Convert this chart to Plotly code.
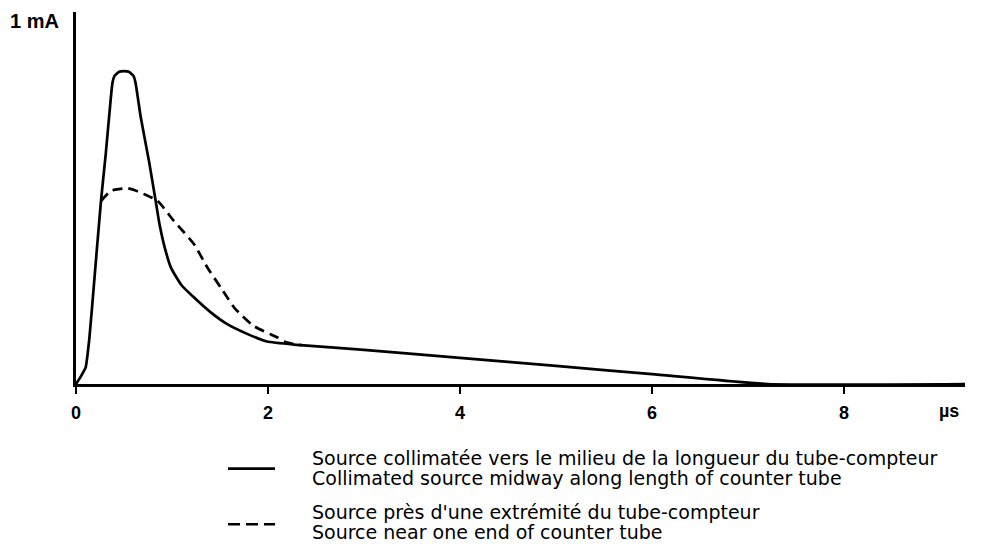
import plotly.graph_objects as go

# Solid curve: collimated source midway along counter tube (time in µs, current in mA)
solid_t = [0.0, 0.03, 0.07, 0.10, 0.14, 0.19, 0.26, 0.31, 0.36, 0.38, 0.40, 0.45, 0.50,
           0.55, 0.60, 0.62, 0.675, 0.76, 0.83, 0.87, 0.93, 0.99, 1.10, 1.23, 1.40,
           1.58, 1.80, 1.99, 2.3, 3.0, 4.0, 5.0, 6.0, 7.2, 9.27]
solid_i = [0.0, 0.012, 0.03, 0.045, 0.128, 0.284, 0.504, 0.634, 0.78, 0.83, 0.848, 0.860, 0.862,
           0.860, 0.848, 0.830, 0.734, 0.614, 0.504, 0.44, 0.37, 0.32, 0.272, 0.238, 0.198,
           0.164, 0.136, 0.117, 0.108, 0.094, 0.072, 0.050, 0.027, 0.0, 0.0]

# Dashed curve: source near one end of counter tube
dash_t = [0.26, 0.364, 0.45, 0.537, 0.62, 0.71, 0.85, 1.02, 1.23, 1.37, 1.51, 1.65, 1.85, 2.10, 2.20, 2.35]
dash_i = [0.504, 0.532, 0.537, 0.539, 0.533, 0.523, 0.504, 0.449, 0.385, 0.320, 0.265, 0.210, 0.160, 0.128, 0.114, 0.107]

x_ticks = [0, 2, 4, 6, 8]
x_unit = "µs"
y_label = "1 mA"
legend_solid = ["Source collimatée vers le milieu de la longueur du tube-compteur",
                "Collimated source midway along length of counter tube"]
legend_dash = ["Source près d'une extrémité du tube-compteur",
               "Source near one end of counter tube"]

# Figure geometry (page has an 8px body margin, so the figure is 8px smaller)
FW, FH = 987, 536
ML, MR, MT, MB = 68, 30, 2, 160
PW, PH = FW - ML - MR, FH - MT - MB


def px(fx):
    return (fx - ML) / PW


def py(fy):
    return (FH - MB - fy) / PH


fig = go.Figure()
fig.add_trace(go.Scatter(x=solid_t, y=solid_i, mode="lines",
                         line=dict(color="black", width=2.7, shape="spline", smoothing=0.5),
                         showlegend=False, hoverinfo="skip"))
fig.add_trace(go.Scatter(x=dash_t, y=dash_i, mode="lines",
                         line=dict(color="black", width=2.7, dash="10px,6px", shape="spline", smoothing=0.6),
                         showlegend=False, hoverinfo="skip"))

tick_font = dict(family="Liberation Sans, Arial, sans-serif", size=18, color="black")
ylab_font = dict(family="Liberation Sans, Arial, sans-serif", size=20, color="black")

fig.update_layout(
    width=FW, height=FH,
    margin=dict(l=ML, r=MR, t=MT, b=MB),
    paper_bgcolor="white", plot_bgcolor="white",
    font=dict(family="Liberation Sans, Arial, sans-serif", color="black"),
    xaxis=dict(range=[0, 9.26], tickvals=x_ticks, ticktext=["<b>%d</b>" % v for v in x_ticks],
               showline=True, linecolor="black", linewidth=2.5, ticks="outside", ticklen=7,
               tickwidth=2, tickcolor="black", showgrid=False, zeroline=False,
               tickfont=tick_font, ticklabelstandoff=4),
    yaxis=dict(range=[0, 1.0247], tickvals=[1], ticktext=["<b>" + y_label + "</b>"],
               showline=True, linecolor="black", linewidth=3, ticks="", showgrid=False,
               zeroline=False, tickfont=ylab_font, ticklabelstandoff=10),
)

fig.add_annotation(x=9.09, y=0, yref="y", xref="x", yshift=-27, text="<b>" + x_unit + "</b>",
                   showarrow=False, font=tick_font)

# Legend built from line samples and text
leg_font = dict(family="DejaVu Sans, sans-serif", size=19, color="black")
fig.add_shape(type="line", xref="paper", yref="paper", x0=px(220), x1=px(267),
              y0=py(461), y1=py(461), line=dict(color="black", width=2.7))
fig.add_shape(type="line", xref="paper", yref="paper", x0=px(220), x1=px(267),
              y0=py(517), y1=py(517), line=dict(color="black", width=2.7, dash="12px,6px"))
for txt, fy in [(legend_solid[0], 450), (legend_solid[1], 471), (legend_dash[0], 505), (legend_dash[1], 525)]:
    fig.add_annotation(xref="paper", yref="paper", x=px(302), y=py(fy),
                       xanchor="left", yanchor="middle", text=txt, showarrow=False,
                       font=leg_font)

fig.write_html("out.html")
